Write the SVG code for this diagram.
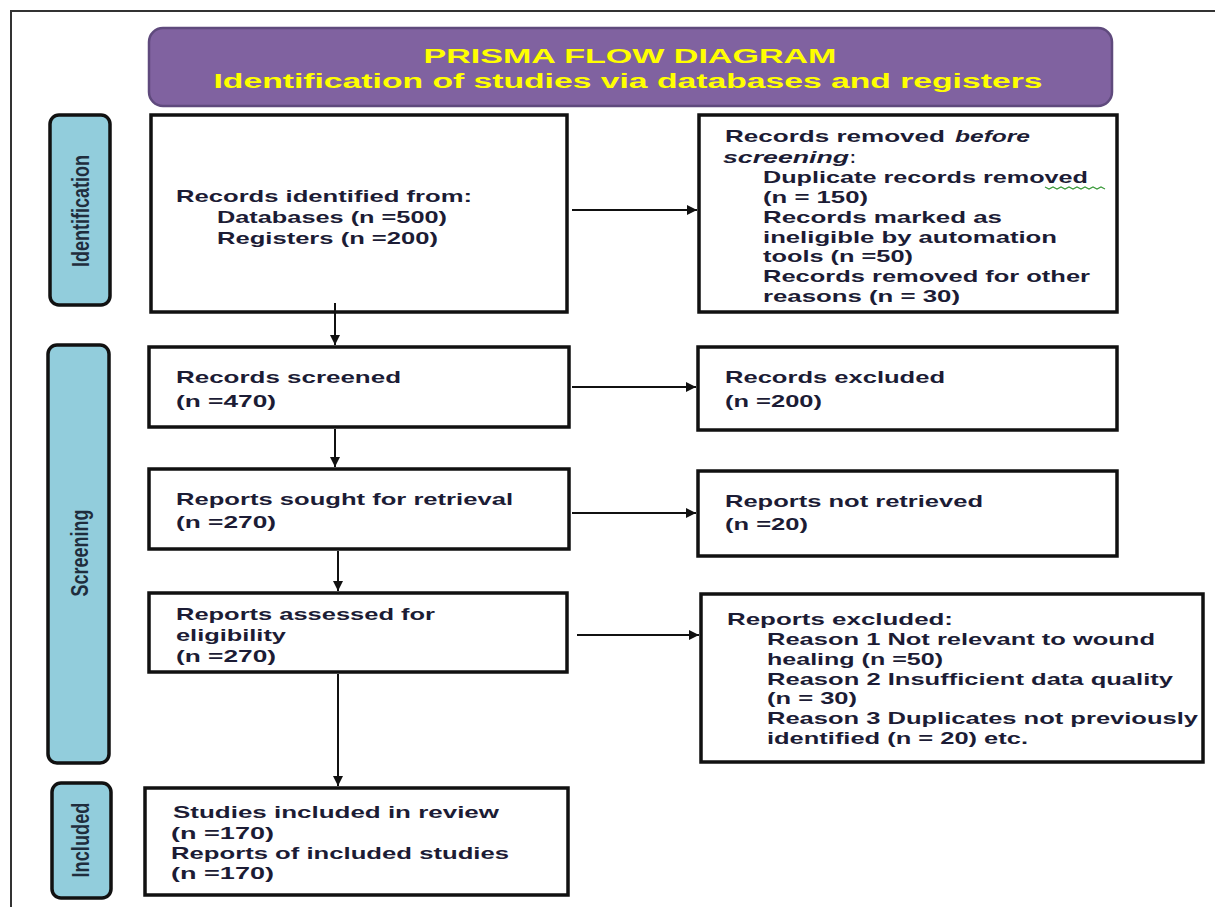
<svg xmlns="http://www.w3.org/2000/svg" width="1215" height="907" viewBox="0 0 1215 907">
<defs>
<style>
.frame{fill:none;stroke:#333;stroke-width:2}
.box{fill:#fff;stroke:#111;stroke-width:3.5}
.side{fill:#92cddc;stroke:#111;stroke-width:3.5}
.title{fill:#8062a0;stroke:#5f4a7d;stroke-width:2.5}
.t{font-family:"Liberation Sans",Arial,sans-serif;font-weight:bold;font-size:17px;fill:#1c1c35}
.it{font-style:italic}
.tt{font-family:"Liberation Sans",Arial,sans-serif;font-weight:bold;font-size:20px;fill:#ffff00;text-anchor:middle}
.sl{font-family:"Liberation Sans",Arial,sans-serif;font-weight:bold;font-size:16px;fill:#1f2d3d;text-anchor:middle;dominant-baseline:central}
.c{fill:none;stroke:#111;stroke-width:2}
</style>
<marker id="ah" viewBox="0 0 10 10" refX="10" refY="5" markerWidth="10" markerHeight="10" markerUnits="userSpaceOnUse" orient="auto">
<path d="M0,0 L10,5 L0,10 Z" fill="#111"/>
</marker>
</defs>
<rect width="1215" height="907" fill="#fff"/>
<path class="frame" d="M1215,11 H11 V907"/>

<g id="title">
<rect class="title" x="149" y="28" width="963" height="78" rx="14"/>
<text class="tt" x="630" y="63" textLength="413" lengthAdjust="spacingAndGlyphs">PRISMA FLOW DIAGRAM</text>
<text class="tt" x="628" y="88" textLength="829" lengthAdjust="spacingAndGlyphs">Identification of studies via databases and registers</text>
</g>

<g id="label-identification">
<rect class="side" x="50" y="115" width="60" height="190" rx="9"/>
<text class="sl" transform="translate(81,211) scale(1.5,1) rotate(-90)" textLength="112" lengthAdjust="spacingAndGlyphs">Identification</text>
</g>
<g id="label-screening">
<rect class="side" x="48" y="345" width="61" height="418" rx="9"/>
<text class="sl" transform="translate(80,553) scale(1.5,1) rotate(-90)" textLength="87" lengthAdjust="spacingAndGlyphs">Screening</text>
</g>
<g id="label-included">
<rect class="side" x="52" y="783" width="59" height="115" rx="9"/>
<text class="sl" transform="translate(81,840) scale(1.5,1) rotate(-90)" textLength="75" lengthAdjust="spacingAndGlyphs">Included</text>
</g>

<g id="records-identified">
<rect class="box" x="151" y="115" width="416" height="197"/>
<text class="t" x="176" y="202" textLength="296" lengthAdjust="spacingAndGlyphs">Records identified from:</text>
<text class="t" x="217" y="223" textLength="230" lengthAdjust="spacingAndGlyphs">Databases (n =500)</text>
<text class="t" x="217" y="244" textLength="221" lengthAdjust="spacingAndGlyphs">Registers (n =200)</text>
</g>

<g id="records-removed">
<rect class="box" x="699" y="115" width="418" height="197"/>
<text class="t" x="725" y="142" textLength="220" lengthAdjust="spacingAndGlyphs">Records removed</text>
<text class="t it" x="955" y="142" textLength="75" lengthAdjust="spacingAndGlyphs">before</text>
<text class="t it" x="723" y="163" textLength="126" lengthAdjust="spacingAndGlyphs">screening</text>
<text class="t" x="850" y="163">:</text>
<text class="t" x="763" y="183" textLength="325" lengthAdjust="spacingAndGlyphs">Duplicate records removed</text>
<path d="M1045,187 l4,2 l4,-2 l4,2 l4,-2 l4,2 l4,-2 l4,2 l4,-2 l4,2 l4,-2 l4,2 l4,-2 l4,2 l4,-2 l4,2" fill="none" stroke="#3a9a3a" stroke-width="1.2"/>
<text class="t" x="763" y="203" textLength="105" lengthAdjust="spacingAndGlyphs">(n = 150)</text>
<text class="t" x="763" y="223" textLength="239" lengthAdjust="spacingAndGlyphs">Records marked as</text>
<text class="t" x="763" y="243" textLength="294" lengthAdjust="spacingAndGlyphs">ineligible by automation</text>
<text class="t" x="763" y="262" textLength="150" lengthAdjust="spacingAndGlyphs">tools (n =50)</text>
<text class="t" x="763" y="282" textLength="327" lengthAdjust="spacingAndGlyphs">Records removed for other</text>
<text class="t" x="763" y="302" textLength="197" lengthAdjust="spacingAndGlyphs">reasons (n = 30)</text>
</g>

<g id="records-screened">
<rect class="box" x="149" y="347" width="420" height="80"/>
<text class="t" x="176" y="383" textLength="225" lengthAdjust="spacingAndGlyphs">Records screened</text>
<text class="t" x="176" y="407" textLength="100" lengthAdjust="spacingAndGlyphs">(n =470)</text>
</g>

<g id="records-excluded">
<rect class="box" x="698" y="347" width="419" height="83"/>
<text class="t" x="725" y="383" textLength="220" lengthAdjust="spacingAndGlyphs">Records excluded</text>
<text class="t" x="725" y="407" textLength="97" lengthAdjust="spacingAndGlyphs">(n =200)</text>
</g>

<g id="reports-sought">
<rect class="box" x="149" y="469" width="420" height="80"/>
<text class="t" x="176" y="505" textLength="337" lengthAdjust="spacingAndGlyphs">Reports sought for retrieval</text>
<text class="t" x="176" y="528" textLength="100" lengthAdjust="spacingAndGlyphs">(n =270)</text>
</g>

<g id="reports-not-retrieved">
<rect class="box" x="698" y="471" width="419" height="85"/>
<text class="t" x="725" y="507" textLength="258" lengthAdjust="spacingAndGlyphs">Reports not retrieved</text>
<text class="t" x="725" y="530" textLength="83" lengthAdjust="spacingAndGlyphs">(n =20)</text>
</g>

<g id="reports-assessed">
<rect class="box" x="149" y="593" width="418" height="79"/>
<text class="t" x="176" y="620" textLength="259" lengthAdjust="spacingAndGlyphs">Reports assessed for</text>
<text class="t" x="176" y="641" textLength="110" lengthAdjust="spacingAndGlyphs">eligibility</text>
<text class="t" x="176" y="662" textLength="100" lengthAdjust="spacingAndGlyphs">(n =270)</text>
</g>

<g id="reports-excluded">
<rect class="box" x="701" y="594" width="502" height="168"/>
<text class="t" x="727" y="625" textLength="226" lengthAdjust="spacingAndGlyphs">Reports excluded:</text>
<text class="t" x="767" y="645" textLength="388" lengthAdjust="spacingAndGlyphs">Reason 1 Not relevant to wound</text>
<text class="t" x="767" y="665" textLength="176" lengthAdjust="spacingAndGlyphs">healing (n =50)</text>
<text class="t" x="767" y="685" textLength="406" lengthAdjust="spacingAndGlyphs">Reason 2 Insufficient data quality</text>
<text class="t" x="767" y="704" textLength="90" lengthAdjust="spacingAndGlyphs">(n = 30)</text>
<text class="t" x="767" y="724" textLength="431" lengthAdjust="spacingAndGlyphs">Reason 3 Duplicates not previously</text>
<text class="t" x="767" y="744" textLength="261" lengthAdjust="spacingAndGlyphs">identified (n = 20) etc.</text>
</g>

<g id="included">
<rect class="box" x="145" y="788" width="423" height="107"/>
<text class="t" x="173" y="818" textLength="326" lengthAdjust="spacingAndGlyphs">Studies included in review</text>
<text class="t" x="171" y="839" textLength="103" lengthAdjust="spacingAndGlyphs">(n =170)</text>
<text class="t" x="171" y="859" textLength="338" lengthAdjust="spacingAndGlyphs">Reports of included studies</text>
<text class="t" x="171" y="879" textLength="103" lengthAdjust="spacingAndGlyphs">(n =170)</text>
</g>

<g id="connectors">
<line class="c" x1="572" y1="210" x2="697" y2="210" marker-end="url(#ah)"/>
<line class="c" x1="335" y1="303" x2="335" y2="345" marker-end="url(#ah)"/>
<line class="c" x1="572" y1="387" x2="696" y2="387" marker-end="url(#ah)"/>
<line class="c" x1="335" y1="429" x2="335" y2="467" marker-end="url(#ah)"/>
<line class="c" x1="572" y1="513" x2="696" y2="513" marker-end="url(#ah)"/>
<line class="c" x1="338" y1="551" x2="338" y2="591" marker-end="url(#ah)"/>
<line class="c" x1="577" y1="635" x2="699" y2="635" marker-end="url(#ah)"/>
<line class="c" x1="338" y1="674" x2="338" y2="786" marker-end="url(#ah)"/>
</g>
</svg>
